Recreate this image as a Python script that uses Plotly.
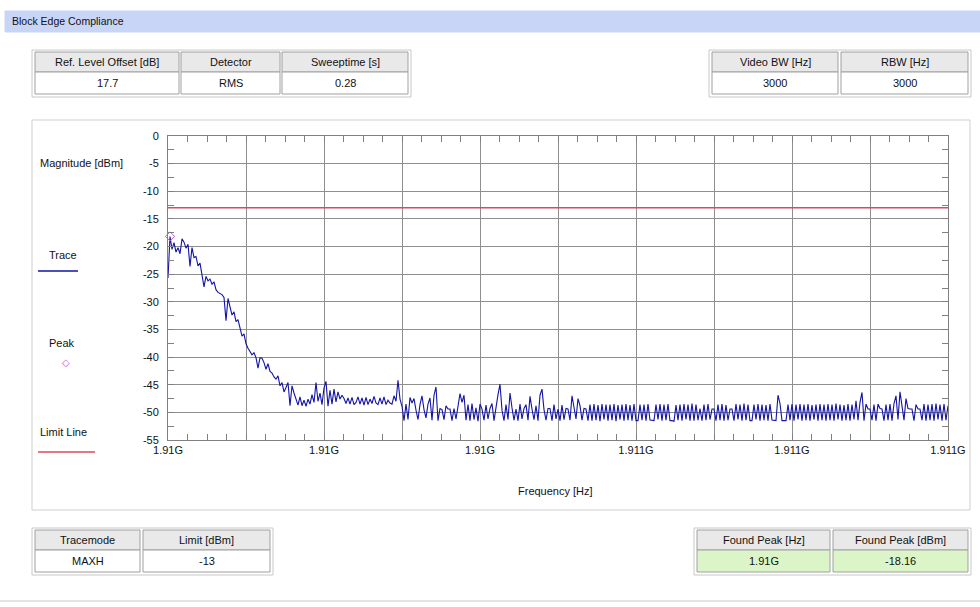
import numpy as np
import plotly.graph_objects as go

# ---------------- data ----------------
f_start_hz = 1.910e9
f_stop_hz = 1.911e9
limit_dbm = -13.0
peak_freq_label = "1.91G"
peak_dbm = -18.16

trace_dbm = [
    -25.7, -18.2, -20.5, -19.3, -21.0, -20.2, -21.3, -18.6, -19.2, -20.3,
    -19.6, -23.6, -20.2, -22.0, -21.8, -23.5, -23.0, -25.5, -27.3, -25.4,
    -26.2, -25.9, -26.8, -26.4, -27.8, -28.3, -28.5, -28.7, -29.2, -33.4,
    -29.4, -31.0, -32.4, -31.8, -33.6, -33.2, -35.0, -36.2, -35.8, -37.6,
    -38.4, -38.9, -39.6, -39.2, -40.1, -42.0, -40.1, -40.2, -41.0, -42.2,
    -41.2, -42.6, -42.9, -43.6, -44.0, -43.4, -45.2, -44.6, -46.3, -45.5,
    -44.6, -48.8, -45.2, -46.5, -47.6, -48.7, -47.2, -48.8, -47.8, -48.9,
    -47.6, -48.5, -46.8, -48.2, -44.6, -48.0, -46.5, -48.6, -45.6, -44.4,
    -48.9, -46.0, -48.5, -45.8, -48.1, -46.3, -47.6, -46.9, -47.5, -48.4,
    -47.4, -48.5, -47.3, -48.6, -48.2, -47.2, -48.5, -47.4, -48.7, -47.3,
    -48.6, -47.6, -48.4, -47.1, -48.3, -48.6, -47.4, -48.5, -47.2, -48.6,
    -47.8, -48.3, -48.5, -47.0, -48.0, -44.2, -47.6, -48.9,
    -51.5, -48.5, -51.3, -47.3, -48.3, -47.5, -49.6, -51.3, -48.6, -47.0,
    -49.5, -51.0, -48.5, -47.4, -51.4, -46.9, -45.4, -51.5, -49.3, -49.5,
    -51.3, -48.8, -49.4, -49.4, -51.5, -49.3, -51.2, -48.7, -46.6, -48.2,
    -46.9, -51.4, -48.6, -51.5, -48.4, -51.3, -49.2, -51.6, -48.5, -49.4,
    -51.4, -48.7, -51.2, -49.3, -48.4, -51.5, -48.8, -46.8, -44.9, -49.6,
    -51.5, -48.6, -51.3, -46.5, -49.2, -51.4, -49.4, -51.5, -48.5, -51.2,
    -49.3, -48.6, -51.4, -47.1, -49.4, -51.3, -48.8, -51.5, -46.9, -45.8,
    -49.5, -51.4, -49.3, -49.3, -51.5, -48.6, -51.2, -49.4, -51.5, -48.7,
    -51.3, -49.3, -49.4, -51.4, -47.0, -49.5, -51.2, -47.5, -48.8, -51.4,
    -49.3, -49.4, -51.5, -48.6, -51.5, -48.5, -51.4, -48.7, -51.6, -48.5,
    -51.3, -48.6, -51.5, -48.6, -51.4, -48.5, -51.6, -48.7, -51.3, -48.6,
    -51.5, -48.5, -51.4, -48.7, -51.5, -48.5, -51.5, -51.5, -48.6, -51.4,
    -48.6, -51.5, -48.5, -51.4, -51.5, -51.5, -48.6, -51.3, -48.5, -51.5,
    -48.6, -51.4, -48.5, -51.5, -51.5, -51.6, -48.7, -51.4, -48.6, -51.5,
    -48.5, -51.3, -48.6, -51.5, -48.4, -51.5, -48.6, -51.4, -49.3, -51.5,
    -48.6, -51.4, -48.5, -51.3, -49.4, -49.4, -51.5, -48.6, -51.4, -48.5,
    -51.5, -48.7, -51.4, -49.4, -49.4, -51.5, -48.5, -51.3, -48.6, -51.5,
    -48.4, -51.4, -48.6, -51.5, -51.5, -48.6, -51.3, -48.5, -51.5, -48.6,
    -51.4, -48.7, -51.5, -48.5, -51.4, -51.5, -51.5, -46.9, -48.4, -51.5,
    -51.5, -51.5, -48.6, -51.4, -48.5, -51.5, -48.6, -51.3, -48.5, -51.5,
    -48.6, -51.4, -48.5, -51.5, -48.7, -51.3, -48.6, -51.5, -48.5, -51.4,
    -48.6, -51.5, -48.5, -51.4, -48.6, -51.5, -48.4, -51.3, -48.6, -51.5,
    -48.7, -51.4, -48.5, -51.5, -48.6, -51.3, -47.9, -51.4, -48.2, -46.4,
    -51.5, -48.5, -49.4, -49.4, -51.4, -48.6, -51.5, -48.5, -49.3, -49.4,
    -51.5, -48.6, -51.4, -48.5, -51.5, -48.4, -47.0, -51.3, -46.3, -48.8,
    -51.4, -47.5, -49.3, -49.4, -49.4, -51.5, -48.6, -49.4, -49.4, -51.4,
    -48.5, -51.5, -48.6, -51.4, -48.5, -51.5, -48.4, -51.3, -48.6, -51.5,
    -48.5, -51.4, -48.8,
]
peak_index = 1

y_ticks = [0, -5, -10, -15, -20, -25, -30, -35, -40, -45, -50, -55]
y_tick_labels = ["0", "-5", "-10", "-15", "-20", "-25", "-30", "-35", "-40", "-45", "-50", "-55"]
x_tick_labels = ["1.91G", "", "1.91G", "", "1.91G", "", "1.911G", "", "1.911G", "", "1.911G"]

top_left_headers = ["Ref. Level Offset [dB]", "Detector", "Sweeptime [s]"]
top_left_values = ["17.7", "RMS", "0.28"]
top_right_headers = ["Video BW [Hz]", "RBW [Hz]"]
top_right_values = ["3000", "3000"]
bottom_left_headers = ["Tracemode", "Limit [dBm]"]
bottom_left_values = ["MAXH", "-13"]
bottom_right_headers = ["Found Peak [Hz]", "Found Peak [dBm]"]
bottom_right_values = [peak_freq_label, "-18.16"]

# ---------------- figure ----------------
W, H = 980, 607
FONT = "Liberation Sans"
TRACE_BLUE = "#1414a6"
LIMIT_RED = "#d84a5c"
freqs = np.linspace(f_start_hz, f_stop_hz, len(trace_dbm))


def px(x):
    return x / W


def py(y):
    return 1 - y / H


fig = go.Figure()
fig.add_trace(go.Scatter(x=freqs, y=trace_dbm, mode="lines",
                         line=dict(color=TRACE_BLUE, width=1.1), hoverinfo="x+y"))
fig.add_trace(go.Scatter(x=[f_start_hz, f_stop_hz], y=[limit_dbm, limit_dbm], mode="lines",
                         line=dict(color=LIMIT_RED, width=1.5)))
fig.add_trace(go.Scatter(x=[freqs[peak_index]], y=[peak_dbm], mode="markers",
                         marker=dict(symbol="diamond-open", size=7, color="#cc55dd",
                                     line=dict(width=1)), cliponaxis=False))

shapes = []
annotations = []


def rect(x0, y0, x1, y1, fill="white", line="#a8a8a8", width=1, layer="below"):
    shapes.append(dict(type="rect", xref="paper", yref="paper",
                       x0=px(x0), x1=px(x1), y0=py(y1), y1=py(y0),
                       fillcolor=fill, line=dict(color=line, width=width), layer=layer))


def text(x, y, s, size=11, anchor="center", color="#111111"):
    annotations.append(dict(xref="paper", yref="paper", x=px(x), y=py(y), text=s,
                            showarrow=False, xanchor=anchor, yanchor="middle",
                            font=dict(family=FONT, size=size, color=color)))


def table(x0, y0, cells, headers, values, value_fill="white"):
    right = cells[-1][1]
    rect(x0, y0, right + 3, y0 + 47, fill="white", line="#c8c8c8")
    for (l, r), h, v in zip(cells, headers, values):
        rect(l, y0 + 2, r, y0 + 22, fill="#e9e9e9", line="#a0a0a0")
        rect(l, y0 + 22, r, y0 + 44, fill=value_fill, line="#a0a0a0")
        text((l + r) / 2, y0 + 12, h)
        text((l + r) / 2, y0 + 33, v)


# header bar
rect(5, 11, 980, 32, fill="#c9d5f7", line="#c9d5f7")
text(10, 21, "Block Edge Compliance", size=10.5, anchor="left")

# tables
table(32, 50, [(35, 179), (181, 280), (282, 408)], top_left_headers, top_left_values)
table(709, 50, [(712, 838), (841, 968)], top_right_headers, top_right_values)
table(32, 528, [(35, 140), (143, 270)], bottom_left_headers, bottom_left_values)
table(694, 528, [(697, 830), (833, 968)], bottom_right_headers, bottom_right_values,
      value_fill="#dcf5c8")

# chart frame
rect(32, 120, 970, 510, fill="rgba(0,0,0,0)", line="#cfcfcf")
shapes.append(dict(type="line", xref="paper", yref="paper", x0=0, x1=1,
                   y0=py(601), y1=py(601), line=dict(color="#e4e4e4", width=2)))

# legend-like labels
text(38, 163, "Magnitude [dBm]", anchor="left")
text(47, 255, "Trace", anchor="left")
shapes.append(dict(type="line", xref="paper", yref="paper", x0=px(38), x1=px(78),
                   y0=py(271), y1=py(271), line=dict(color=TRACE_BLUE, width=1.5)))
text(47, 343, "Peak", anchor="left")
annotations.append(dict(xref="paper", yref="paper", x=px(60), y=py(362), text="◇",
                        showarrow=False, font=dict(family="DejaVu Sans", size=10, color="#cc55dd")))
text(38, 432, "Limit Line", anchor="left")
shapes.append(dict(type="line", xref="paper", yref="paper", x0=px(38), x1=px(95),
                   y0=py(452), y1=py(452), line=dict(color=LIMIT_RED, width=1.5)))
text(555, 491, "Frequency [Hz]")

x_tickvals = list(np.linspace(f_start_hz, f_stop_hz, len(x_tick_labels)))

fig.update_layout(
    template="none",
    width=W, height=H, autosize=False,
    margin=dict(l=0, r=0, t=0, b=0, pad=0, autoexpand=False),
    paper_bgcolor="white", plot_bgcolor="white",
    showlegend=False,
    font=dict(family=FONT, size=11, color="#111111"),
    shapes=shapes, annotations=annotations,
    xaxis=dict(domain=[px(168), px(948)], range=[f_start_hz, f_stop_hz], automargin=False,
               tickmode="array", tickvals=x_tickvals, ticktext=x_tick_labels,
               showgrid=True, gridcolor="#8f8f8f", gridwidth=1,
               showline=True, linecolor="#808080", linewidth=1, mirror="ticks",
               ticks="inside", ticklen=0, tickcolor="#808080",
               minor=dict(dtick=(f_stop_hz - f_start_hz) / 40, tick0=f_start_hz,
                          ticks="inside", ticklen=6, tickcolor="#808080", showgrid=False),
               zeroline=False, tickfont=dict(size=11)),
    yaxis=dict(domain=[py(440), py(136)], range=[-55, 0], automargin=False,
               tickmode="array", tickvals=y_ticks, ticktext=y_tick_labels,
               showgrid=True, gridcolor="#8f8f8f", gridwidth=1,
               showline=True, linecolor="#808080", linewidth=1, mirror="ticks",
               ticks="inside", ticklen=0, tickcolor="#808080",
               minor=dict(dtick=2.5, tick0=0, ticks="inside", ticklen=6,
                          tickcolor="#808080", showgrid=False),
               zeroline=False, ticklabelstandoff=6, tickfont=dict(size=11)),
)

fig.write_html("out.html",
               config={"displayModeBar": False},
               post_script="document.body.style.margin='0';document.body.style.overflow='hidden';")
